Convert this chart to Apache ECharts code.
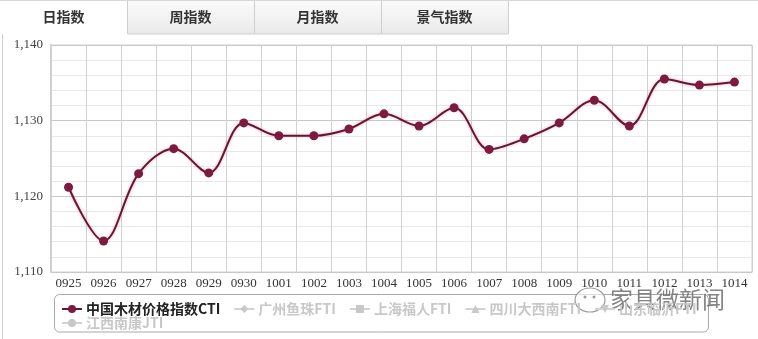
<!DOCTYPE html>
<html>
<head>
<meta charset="utf-8">
<script src="https://cdn.jsdelivr.net/npm/echarts@6/dist/echarts.min.js"></script>
<style>
html,body{margin:0;padding:0;background:#fff;}
#c{width:758px;height:339px;}
</style>
</head>
<body>
<div id="c"></div>
<script>
var categories = ['0925','0926','0927','0928','0929','0930','1001','1002','1003','1004','1005','1006','1007','1008','1009','1010','1011','1012','1013','1014'];
var ctiValues = [1121.2,1114.1,1123.0,1126.3,1123.1,1129.7,1128.0,1128.0,1128.9,1130.9,1129.3,1131.7,1126.2,1127.6,1129.7,1132.7,1129.3,1135.5,1134.7,1135.1];
var seriesNames = ['中国木材价格指数CTI','广州鱼珠FTI','上海福人FTI','四川大西南FTI','山东临沂FTI','江西南康JTI'];
var seriesSymbols = ['circle','diamond','rect','triangle','path://M0,0 L10,0 L5,10 Z','circle'];
var tabLabels = ['日指数','周指数','月指数','景气指数'];
var watermarkText = '家具微新闻';

var chart = echarts.init(document.getElementById('c'), null, {renderer:'canvas'});

var selected = {};
seriesNames.forEach(function(n,i){ selected[n] = (i === 0); });

var series = seriesNames.map(function(n,i){
  return {
    name: n,
    type: 'line',
    symbol: seriesSymbols[i],
    symbolSize: 9,
    smooth: 0.35,
    data: i === 0 ? ctiValues : [],
    itemStyle: {color: '#7d1a40'},
    lineStyle: {color: '#5e1a32', width: 2, shadowColor: 'rgba(255,90,150,0.6)', shadowBlur: 3},
    emphasis: {disabled: true},
    animation: false
  };
});

var tabGraphics = [];
tabLabels.forEach(function(t,i){
  var x = i * 127;
  if (i === 0) {
    tabGraphics.push({type:'rect', shape:{x:0,y:0,width:127,height:34}, style:{fill:'#ffffff'}, silent:true});
  } else {
    tabGraphics.push({type:'rect', shape:{x:x+0.5,y:0.5,width:127,height:33.5},
      style:{fill:new echarts.graphic.LinearGradient(0,0,0,1,[{offset:0,color:'#fbfbfb'},{offset:1,color:'#e9e9e9'}]), stroke:'#cfcfcf', lineWidth:1}, silent:true});
  }
  tabGraphics.push({type:'text', x: x + 63.5, y: 17, style:{text:t, font:'bold 14px "Noto Sans CJK SC"', fill:'#333', align:'center', verticalAlign:'middle'}, silent:true});
});

var legendText = {fontSize: 14, fontWeight: 'bold', fontFamily: '"Noto Sans CJK SC"', color: '#222', padding:[0,0,0,-1]};

var option = {
  backgroundColor: '#ffffff',
  animation: false,
  grid: {left: 51, right: 6, top: 45, bottom: 67, show: true, borderColor: '#d0d0d0', borderWidth: 1},
  legend: [
    {
      data: seriesNames.slice(0,5),
      left: 61, top: 302,
      orient: 'horizontal',
      itemWidth: 20, itemHeight: 10, itemGap: 13,
      selected: selected,
      inactiveColor: '#c8c8c8',
      textStyle: legendText,
      padding: 0
    },
    {
      data: seriesNames.slice(5),
      left: 61, top: 316,
      orient: 'horizontal',
      itemWidth: 20, itemHeight: 10, itemGap: 13,
      selected: selected,
      inactiveColor: '#c8c8c8',
      textStyle: legendText,
      padding: 0
    }
  ],
  xAxis: {
    type: 'category',
    data: categories,
    boundaryGap: true,
    axisLine: {show: true, lineStyle: {color: '#c8c8c8'}},
    axisTick: {show: false},
    axisLabel: {interval: 0, margin: 5, color: '#333', fontSize: 13, fontFamily: '"Liberation Serif"'},
    splitLine: {show: true, interval: 0, lineStyle: {color: '#d0d0d0', width: 1}}
  },
  yAxis: {
    type: 'value',
    min: 1110, max: 1140, interval: 10,
    axisLine: {show: true, lineStyle: {color: '#d0d0d0', width: 2}},
    axisTick: {show: false},
    axisLabel: {margin: 8, color: '#444', fontSize: 13, fontFamily: '"Liberation Serif"',
      formatter: function(v){ return String(v).replace(/\B(?=(\d{3})+(?!\d))/g, ','); }},
    splitLine: {show: true, lineStyle: {color: '#c8c8c8'}},
    minorTick: {show: false, splitNumber: 5},
    minorSplitLine: {show: true, lineStyle: {color: '#e8e8e8'}}
  },
  graphic: tabGraphics.concat([
    {type:'line', shape:{x1:0,y1:0.5,x2:758,y2:0.5}, style:{stroke:'#d8d8d8', lineWidth:1}, silent:true},
    {type:'line', shape:{x1:2.5,y1:34,x2:2.5,y2:339}, style:{stroke:'#d0d0d0', lineWidth:1}, silent:true},
    {type:'rect', shape:{x:54.5,y:294.5,width:654,height:37.5,r:5}, style:{fill:'none', stroke:'#a8a8a8', lineWidth:1}, silent:true},
    {type:'ellipse', shape:{cx:590,cy:300,rx:15,ry:12}, style:{fill:'rgba(255,255,255,0.6)', stroke:'#9a9a9a', lineWidth:1.2}, silent:true},
    {type:'circle', shape:{cx:585,cy:297,r:1.5}, style:{fill:'#9a9a9a'}, silent:true},
    {type:'circle', shape:{cx:594,cy:297,r:1.5}, style:{fill:'#9a9a9a'}, silent:true},
    {type:'text', x: 610, y: 299, style:{text: watermarkText, font:'23px "Noto Sans CJK SC"', fill:'rgba(110,110,110,0.85)', align:'left', verticalAlign:'middle'}, silent:true}
  ]),
  series: series
};
chart.setOption(option);
</script>
</body>
</html>
